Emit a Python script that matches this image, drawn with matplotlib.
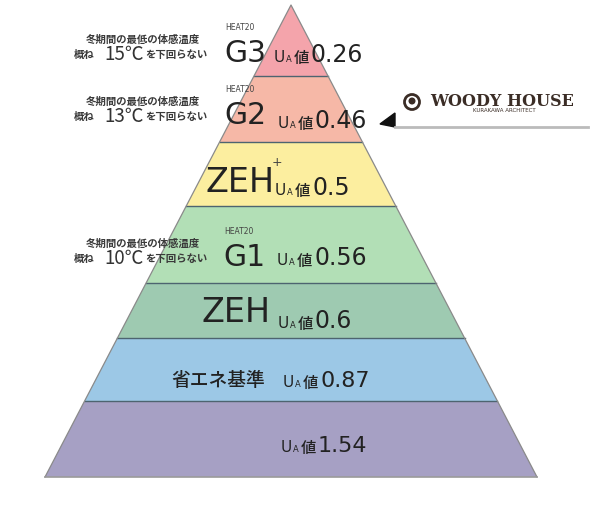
import matplotlib
matplotlib.use('Agg')
import matplotlib.pyplot as plt
from matplotlib.patches import Circle, Polygon

plt.rcParams['font.family'] = ['Noto Sans CJK JP', 'DejaVu Sans']

# ==================== データ ====================
grades = ['G3', 'G2', 'ZEH', 'G1', 'ZEH', '省エネ基準', '']
ua_values = [0.26, 0.46, 0.5, 0.56, 0.6, 0.87, 1.54]
heat20 = [True, True, False, True, False, False, False]
plus_mark = [False, False, True, False, False, False, False]
min_temps = [15, 13, None, 10, None, None, None]
layer_colors = ['#f4a4ab', '#f6b8a7', '#fcee9f', '#b2dfb6', '#9ecab1', '#9cc8e6', '#a6a0c4']

# ==================== レイアウト（ピクセル座標） ====================
apex_x, apex_y = 291, 5
base_y, base_half = 477, 246
bounds = [5, 76, 142, 206, 283, 338, 401, 477]
ua_y = [62, 128, 195, 265, 328, 387, 452]     # ベースライン
u_x = [274, 278, 275, 277, 278, 283, 281]
value_size = [17, 17, 17, 17, 17, 16, 16]
label_x = [245, 245, 240, 244, 236, 218, 0]
label_y = [53, 115, 183, 257, 313, 380, 0]


def half_w(y):
    return base_half * (y - apex_y) / (base_y - apex_y)


fig = plt.figure(figsize=(6, 5.16), dpi=100)
ax = fig.add_axes([0, 0, 1, 1])
ax.set_xlim(0, 600)
ax.set_ylim(516, 0)
ax.axis('off')

# ==================== ピラミッド ====================
for i, col in enumerate(layer_colors):
    yt, yb = bounds[i], bounds[i + 1]
    pts = [(apex_x - half_w(yt), yt), (apex_x + half_w(yt), yt),
           (apex_x + half_w(yb), yb), (apex_x - half_w(yb), yb)]
    ax.add_patch(Polygon(pts, closed=True, facecolor=col, edgecolor='none'))
    if i > 0:
        ax.plot([apex_x - half_w(yt), apex_x + half_w(yt)], [yt, yt],
                color='#4d6470', lw=1.0)

ax.plot([apex_x - base_half, apex_x, apex_x + base_half], [base_y, apex_y, base_y],
        color='#8a8a8a', lw=0.9)
ax.plot([apex_x - base_half, apex_x + base_half], [base_y, base_y], color='#9a9a9a', lw=1.2)

# ==================== ラベル ====================
txt = '#222222'
for i, name in enumerate(grades):
    # UA値
    x0, yb = u_x[i], ua_y[i]
    ax.text(x0, yb, 'U', fontsize=11, color=txt, va='baseline', family='DejaVu Sans')
    ax.text(x0 + 11.5, yb, 'A', fontsize=6, color=txt, va='baseline', family='DejaVu Sans')
    ax.text(x0 + 20, yb + 1, '値', fontsize=11, color=txt, va='baseline', fontweight='medium')
    ax.text(x0 + 37, yb, f'{ua_values[i]:g}', fontsize=value_size[i], color=txt,
            va='baseline', family='DejaVu Sans')

    if not name:
        continue
    if name == '省エネ基準':
        ax.text(label_x[i], label_y[i], name, fontsize=13.5, color=txt,
                ha='center', va='center', fontweight='medium')
    else:
        size = 24 if name == 'ZEH' else 21.5
        ax.text(label_x[i], label_y[i], name, fontsize=size, color=txt,
                ha='center', va='center', family='DejaVu Sans')
    if heat20[i]:
        ax.text(label_x[i] - 5, label_y[i] - 25, 'HEAT20', fontsize=5.5, color='#444444',
                ha='center', va='center', family='DejaVu Sans')
    if plus_mark[i]:
        ax.text(label_x[i] + 37, label_y[i] - 21, '+', fontsize=9, color='#444444',
                ha='center', va='center', family='DejaVu Sans')
    if min_temps[i] is not None:
        ly = label_y[i] - 13
        ax.text(200, ly, '冬期間の最低の体感温度', fontsize=7.5, color='#3a3a3a',
                ha='right', va='center', fontweight='bold')
        ax.text(207, ly + 15, 'を下回らない', fontsize=7.5, color='#3a3a3a',
                ha='right', va='center', fontweight='bold')
        ax.text(144, ly + 14, f'{min_temps[i]}℃', fontsize=13.5, color='#333333',
                ha='right', va='center')
        ax.text(95, ly + 15, '概ね', fontsize=7.5, color='#3a3a3a',
                ha='right', va='center', fontweight='bold')

# ==================== WOODY HOUSE ====================
ax.fill([380, 395, 395], [124, 113, 127], color='#111111')
ax.plot([395, 588], [127, 127], color='#bbbbbb', lw=2)
ax.add_patch(Circle((412, 102), 7.5, facecolor='white', edgecolor='#3b2d26', lw=2))
ax.add_patch(Circle((412, 101), 3.5, facecolor='#3b2d26', edgecolor='none'))
ax.text(430, 101, 'WOODY HOUSE', fontsize=11.5, fontweight='bold', color='#3b2d26',
        va='center', ha='left', family='DejaVu Serif')
ax.text(504, 111, 'KURAKAWA ARCHITECT', fontsize=4, color='#3b2d26',
        va='center', ha='center', family='DejaVu Sans')

fig.savefig('out.png', dpi=100)
